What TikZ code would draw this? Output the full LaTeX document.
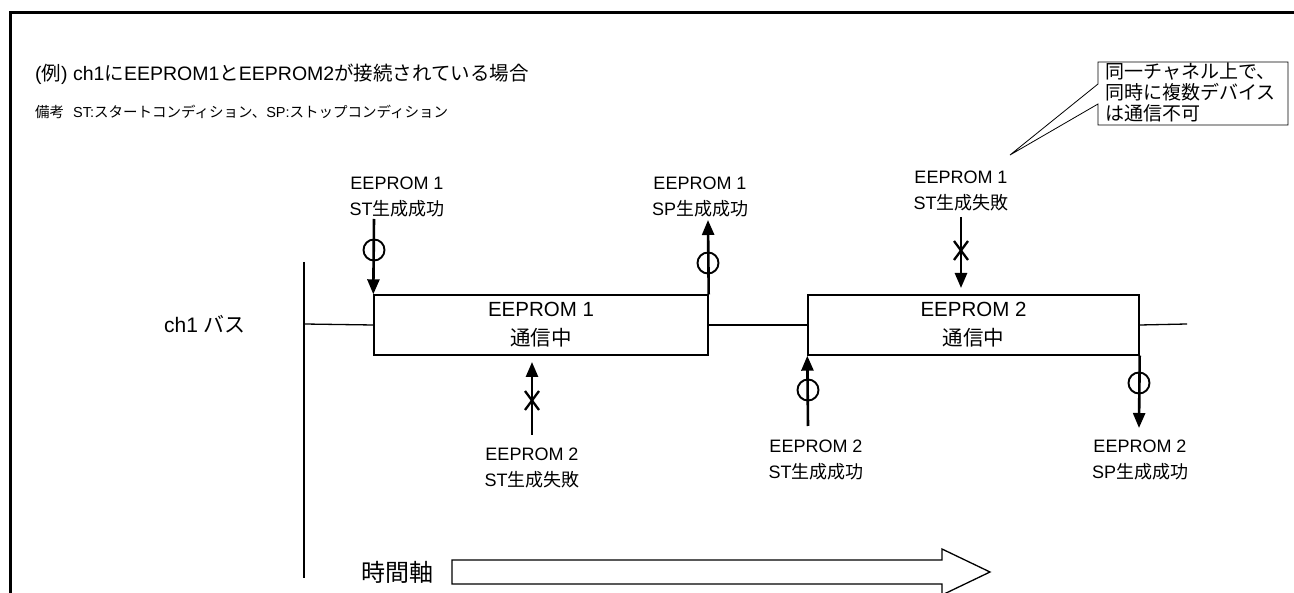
\documentclass[tikz,border=0pt]{standalone}
\usepackage{fontspec}
\setmainfont{Liberation Sans}
\newfontfamily\jp{Noto Sans CJK JP}
\usetikzlibrary{arrows.meta}
\begin{document}
\begin{tikzpicture}[x=1pt,y=-1pt,
  lbl/.style={align=center,inner sep=0pt,font=\fontsize{18}{25.5}\selectfont},
  busbox/.style={draw,line width=1.4pt,minimum width=334pt,minimum height=60pt,inner sep=0pt,align=center,font=\fontsize{20.5}{29}\selectfont},
  evarrow/.style={line width=2.6pt,-{Triangle[length=15pt,width=12pt]}},
  okmark/.style={circle,draw,line width=1.9pt,minimum size=21pt,inner sep=0pt},
  ngmark/.style={line width=2.3pt},
  busline/.style={line width=1.3pt}]
\useasboundingbox (0,0) rectangle (1294,593);
% frame
\draw[line width=3pt] (10,594) -- (10,13) -- (1295,13);
% headings
\node[anchor=west,inner sep=0pt,font=\fontsize{19.5}{23}\selectfont] (title) at (35,74)
  {({\jp 例}) ch1{\jp に}EEPROM1{\jp と}EEPROM2{\jp が接続されている場合}};
\node[anchor=west,inner sep=0pt,font=\fontsize{14.5}{18}\selectfont] (note) at (35,112)
  {{\jp 備考}\hspace{9pt}ST:{\jp スタートコンディション、}SP:{\jp ストップコンディション}};
% axis and bus
\coordinate (vtop) at (304,262);
\coordinate (vbot) at (304,578);
\draw[busline] (vtop) -- (vbot);
\node[anchor=east,inner sep=0pt,font=\fontsize{21}{25}\selectfont] (chlabel) at (246,324) {ch1 {\jp バス}};
\node[busbox] (b1) at (541,325) {EEPROM 1\\{\jp 通信中}};
\node[busbox,minimum width=331pt] (b2) at (973.5,325) {EEPROM 2\\{\jp 通信中}};
\coordinate (busend) at (1187,324);
\draw[busline] (304,324) -- (b1.west);
\draw[busline] (b1.east) -- (b2.west);
\draw[busline] (b2.east) -- (busend);
% event labels
\node[lbl] (l1) at (397,197) {EEPROM 1\\ST{\jp 生成成功}};
\node[lbl] (l2) at (700,197) {EEPROM 1\\SP{\jp 生成成功}};
\node[lbl] (l3) at (961,191) {EEPROM 1\\ST{\jp 生成失敗}};
\node[lbl] (l4) at (532,468) {EEPROM 2\\ST{\jp 生成失敗}};
\node[lbl] (l5) at (816,460) {EEPROM 2\\ST{\jp 生成成功}};
\node[lbl] (l6) at (1140,460) {EEPROM 2\\SP{\jp 生成成功}};
% arrow end points
\coordinate (a1s) at (374,219);
\coordinate (a2e) at (708,220);
\coordinate (a3s) at (961,217);
\coordinate (a3e) at (961,288);
\coordinate (a4s) at (532,435);
\coordinate (a4e) at (532,362);
\coordinate (a5s) at (808,426);
\coordinate (a6e) at (1139,428);
% arrows
\draw[evarrow] (a1s) -- (b1.north west);
\draw[evarrow] (b1.north east) -- (a2e);
\draw[evarrow] (a3s) -- (a3e);
\draw[evarrow] (a4s) -- (a4e);
\draw[evarrow] (a5s) -- (b2.south west);
\draw[evarrow] (b2.south east) -- (a6e);
% marks
\node[okmark] (m1) at (374,250) {};
\node[okmark] (m2) at (708,263) {};
\node[okmark] (m5) at (808,390) {};
\node[okmark] (m6) at (1139,383) {};
\draw[ngmark] (954,241) -- (968,260) (968,241) -- (954,260);
\draw[ngmark] (525,391) -- (539,410) (539,391) -- (525,410);
% callout
\draw[line width=0.8pt] (1098,62) -- (1288,62) -- (1288,125) -- (1098,125) -- (1098,104)
  -- (1010,155) -- (1098,84) -- cycle;
\node[align=left,inner sep=0pt,anchor=north west,font=\jp\fontsize{19}{21}\selectfont] (callout) at (1105,62.5)
  {同一チャネル上で、\\同時に複数デバイス\\は通信不可};
% time axis
\node[anchor=east,inner sep=0pt,font=\jp\fontsize{24}{28}\selectfont] (time) at (434,572) {時間軸};
\draw[line width=1.3pt] (452,560) -- (942,560) -- (942,549) -- (990,572) -- (942,595)
  -- (942,584) -- (452,584) -- cycle;
\end{tikzpicture}
\end{document}
